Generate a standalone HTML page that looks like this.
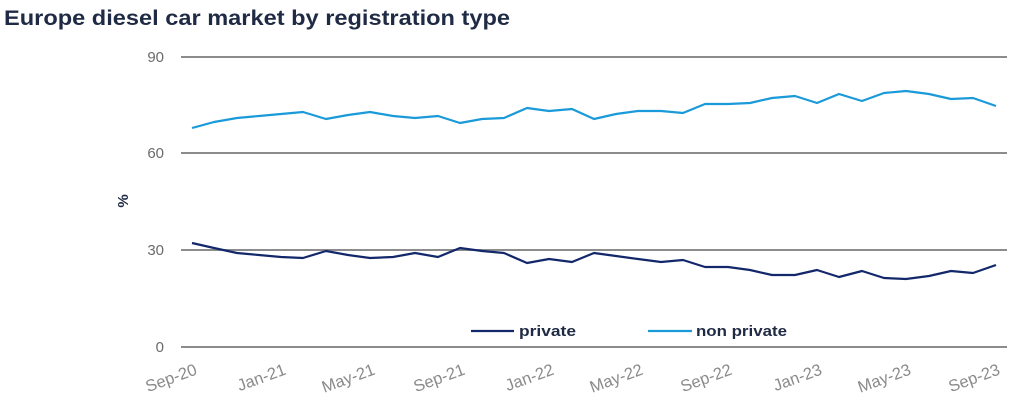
<!DOCTYPE html>
<html><head><meta charset="utf-8"><style>html,body{margin:0;padding:0;background:#fff}svg{display:block}</style></head>
<body>
<svg width="1024" height="419" viewBox="0 0 1024 419" xmlns="http://www.w3.org/2000/svg" font-family="Liberation Sans, sans-serif">
<text x="4" y="25" font-size="21" font-weight="bold" fill="#1f2a44" textLength="506" lengthAdjust="spacingAndGlyphs">Europe diesel car market by registration type</text>
<g stroke="#8c8c8c" stroke-width="2">
<line x1="181" y1="57" x2="1007" y2="57"/>
<line x1="181" y1="153" x2="1007" y2="153"/>
<line x1="181" y1="250" x2="1007" y2="250"/>
<line x1="181" y1="347" x2="1007" y2="347"/>
</g>
<g font-size="15" fill="#6b6b6b" text-anchor="end">
<text x="164" y="62">90</text>
<text x="164" y="158">60</text>
<text x="164" y="255">30</text>
<text x="164" y="352">0</text>
</g>
<text x="128" y="201" font-size="15" font-weight="bold" fill="#1f2a44" text-anchor="middle" transform="rotate(-90 128 201)">%</text>
<polyline fill="none" stroke="#1a9ad9" stroke-width="2.2" stroke-linejoin="round" points="192,128 214,122 237,118 259,116 281,114 303,112 326,119 348,115 370,112 393,116 415,118 438,116 460,123 482,119 504,118 527,108 549,111 572,109 594,119 616,114 638,111 661,111 683,113 705,104 728,104 750,103 772,98 795,96 817,103 839,94 862,101 884,93 906,91 929,94 951,99 973,98 996,106"/>
<polyline fill="none" stroke="#13286b" stroke-width="2.2" stroke-linejoin="round" points="192,243 214,248 237,253 259,255 281,257 303,258 326,251 348,255 370,258 393,257 415,253 438,257 460,248 482,251 504,253 527,263 549,259 572,262 594,253 616,256 638,259 661,262 683,260 705,267 728,267 750,270 772,275 795,275 817,270 839,277 862,271 884,278 906,279 929,276 951,271 973,273 996,265"/>
<line x1="471" y1="331" x2="514" y2="331" stroke="#13286b" stroke-width="2.2"/>
<text x="519" y="336" font-size="15" font-weight="bold" fill="#1f2a44" textLength="57" lengthAdjust="spacingAndGlyphs">private</text>
<line x1="648" y1="331" x2="692" y2="331" stroke="#1a9ad9" stroke-width="2.2"/>
<text x="696" y="336" font-size="15" font-weight="bold" fill="#1f2a44" textLength="91" lengthAdjust="spacingAndGlyphs">non private</text>
<g font-size="16.5" fill="#8a8a8a" text-anchor="end">
<text transform="translate(198,374) rotate(-20)">Sep-20</text>
<text transform="translate(287,374) rotate(-20)">Jan-21</text>
<text transform="translate(376,374) rotate(-20)">May-21</text>
<text transform="translate(466,374) rotate(-20)">Sep-21</text>
<text transform="translate(555,374) rotate(-20)">Jan-22</text>
<text transform="translate(644,374) rotate(-20)">May-22</text>
<text transform="translate(733,374) rotate(-20)">Sep-22</text>
<text transform="translate(823,374) rotate(-20)">Jan-23</text>
<text transform="translate(912,374) rotate(-20)">May-23</text>
<text transform="translate(1001,374) rotate(-20)">Sep-23</text>
</g>
</svg>
</body></html>
